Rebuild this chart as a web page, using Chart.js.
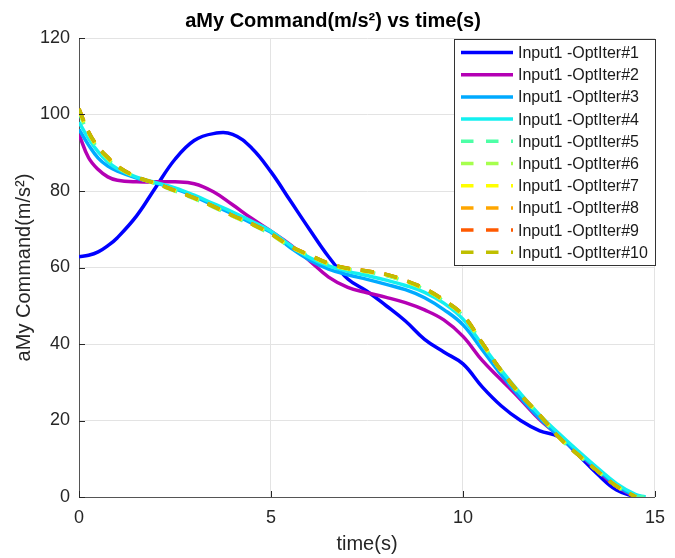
<!DOCTYPE html>
<html>
<head>
<meta charset="utf-8">
<script src="https://cdn.jsdelivr.net/npm/chart.js@4.4.1/dist/chart.umd.min.js"></script>
<style>
   html, body { margin: 0; padding: 0; background: #fff; }
</style>
</head>
<body>
<canvas id="grafico1" width="675" height="558"></canvas>
<script>
// time axis shared by every run (s)
const time = [0, 0.25, 0.5, 0.75, 1, 1.5, 2, 2.5, 3, 3.5, 4, 4.5, 5, 5.5, 6, 6.5, 7, 7.5, 8, 8.5, 9, 9.5, 10, 10.5, 11, 11.5, 12, 12.5, 13, 13.5, 14, 14.5, 14.75];

// aMy command for each optimisation iteration (m/s^2)
const iter1 = [62.8, 63.2, 64.1, 65.7, 67.8, 73.5, 81.0, 88.3, 93.2, 95.0, 94.8, 91.2, 85.0, 77.5, 70.0, 62.8, 57.0, 53.8, 50.0, 46.0, 41.2, 37.9, 34.8, 28.8, 23.8, 20.0, 17.3, 15.7, 11.0, 6.0, 1.8, 0, null];
const iter2 = [94.8, 88.7, 85.6, 83.7, 82.8, 82.4, 82.4, 82.4, 81.9, 79.8, 76.4, 72.8, 69.5, 66.0, 61.8, 57.5, 54.8, 53.4, 52.2, 50.8, 48.9, 46.3, 42.0, 35.7, 30.6, 25.5, 20.2, 16.0, 11.5, 6.9, 2.7, 0, null];
const iter3 = [96.1, 92.0, 88.6, 86.5, 85.2, 83.4, 82.1, 80.6, 78.6, 76.3, 74.0, 71.6, 69.2, 65.2, 62.0, 59.6, 58.1, 56.9, 55.6, 54.2, 52.1, 49.0, 45.0, 38.5, 31.9, 25.9, 20.5, 15.9, 11.5, 7.2, 3.0, 0.3, 0];
const iter4 = [98.0, 93.7, 90.2, 87.6, 85.8, 83.6, 82.2, 80.8, 78.9, 76.7, 74.5, 72.1, 69.5, 65.8, 62.6, 60.4, 59.0, 57.9, 56.7, 55.3, 53.5, 50.7, 46.5, 39.8, 33.1, 27.0, 21.4, 16.6, 12.0, 7.6, 3.5, 0.6, 0];
const iter5 = [100.6, 94.8, 91.0, 88.3, 86.1, 83.6, 81.9, 80.0, 78.0, 75.8, 73.4, 71.2, 68.6, 65.4, 63.0, 60.8, 59.5, 58.8, 57.9, 56.3, 54.2, 51.2, 47.3, 40.1, 32.8, 26.7, 21.3, 15.6, 11.0, 6.8, 2.9, 0.1, 0];
const iter6 = [101.0, 95.1, 91.2, 88.5, 86.3, 83.6, 81.9, 80.0, 78.1, 75.9, 73.5, 71.3, 68.7, 65.5, 63.1, 60.9, 59.6, 58.9, 58.0, 56.4, 54.3, 51.3, 47.4, 40.2, 32.9, 26.7, 21.3, 15.6, 11.0, 6.8, 2.8, 0, null];
const iter7 = [101.2, 95.3, 91.4, 88.7, 86.4, 83.7, 82.0, 80.1, 78.1, 75.9, 73.5, 71.3, 68.7, 65.5, 63.2, 61.0, 59.7, 59.0, 58.1, 56.5, 54.4, 51.4, 47.5, 40.2, 32.9, 26.8, 21.4, 15.6, 11.0, 6.8, 2.8, 0, null];
const iter8 = [101.4, 95.4, 91.5, 88.8, 86.5, 83.7, 82.0, 80.1, 78.2, 76.0, 73.6, 71.4, 68.8, 65.6, 63.3, 61.1, 59.8, 59.1, 58.2, 56.6, 54.5, 51.5, 47.6, 40.3, 33.0, 26.8, 21.4, 15.6, 11.0, 6.8, 2.8, 0, null];
const iter9 = [101.5, 95.5, 91.5, 88.8, 86.5, 83.7, 82.0, 80.1, 78.2, 76.0, 73.6, 71.4, 68.8, 65.6, 63.3, 61.1, 59.8, 59.1, 58.2, 56.6, 54.5, 51.5, 47.6, 40.3, 33.0, 26.8, 21.4, 15.6, 11.0, 6.8, 2.8, 0, null];
const iter10 = [101.5, 95.5, 91.5, 88.8, 86.5, 83.7, 82.0, 80.1, 78.2, 76.0, 73.6, 71.4, 68.8, 65.6, 63.3, 61.1, 59.8, 59.1, 58.2, 56.6, 54.5, 51.5, 47.6, 40.3, 33.0, 26.8, 21.4, 15.6, 11.0, 6.8, 2.8, 0, null];

const labels = ['Input1 -OptIter#1', 'Input1 -OptIter#2', 'Input1 -OptIter#3', 'Input1 -OptIter#4', 'Input1 -OptIter#5',
   'Input1 -OptIter#6', 'Input1 -OptIter#7', 'Input1 -OptIter#8', 'Input1 -OptIter#9', 'Input1 -OptIter#10'];
const series = [iter1, iter2, iter3, iter4, iter5, iter6, iter7, iter8, iter9, iter10];
const colors = ['#0000FF', '#B400B4', '#00AAFF', '#14F0F0', '#4DFFA6', '#A6FF4D', '#FFFF00', '#FFA600', '#FF5A00', '#BFBF00'];
const xTicks = [0, 5, 10, 15];
const yTicks = [0, 20, 40, 60, 80, 100, 120];

const FONT = '"Liberation Sans", Arial, sans-serif';

const datasets = series.map(function (vals, i) {
   return {
      label: labels[i],
      data: time.map((t, k) => ({ x: t, y: vals[k] })),
      borderColor: colors[i],
      borderWidth: 3.5,
      borderDash: i >= 4 ? [13, 11] : [],
      pointRadius: 0,
      fill: false,
      tension: 0.4,
      order: 10 - i
   };
});

// inward ticks + MATLAB style boxed legend
const extras = {
   id: 'extras',
   afterDatasetsDraw(chart) {
      const ctx = chart.ctx, a = chart.chartArea;
      const xs = chart.scales.x, ys = chart.scales.y;
      ctx.save();
      ctx.strokeStyle = '#262626';
      ctx.lineWidth = 1;
      ctx.beginPath();
      xTicks.forEach(v => {
         const px = Math.round(xs.getPixelForValue(v)) + 0.5;
         ctx.moveTo(px, a.bottom); ctx.lineTo(px, a.bottom - 6);
      });
      yTicks.forEach(v => {
         const py = Math.round(ys.getPixelForValue(v)) + 0.5;
         ctx.moveTo(a.left, py); ctx.lineTo(a.left + 6, py);
      });
      ctx.stroke();

      const lx = 454, ly = 39, lw = 201, lh = 226;
      ctx.fillStyle = '#fff';
      ctx.fillRect(lx, ly, lw, lh);
      ctx.strokeStyle = '#333';
      ctx.strokeRect(lx + 0.5, ly + 0.5, lw, lh);
      ctx.font = '16px ' + FONT;
      ctx.textBaseline = 'middle';
      chart.data.datasets.forEach((ds, i) => {
         const y = 52.5 + i * 22.2;
         ctx.strokeStyle = ds.borderColor;
         ctx.lineWidth = 3.5;
         ctx.setLineDash(ds.borderDash.length ? [12.5, 12.5] : []);
         ctx.beginPath(); ctx.moveTo(461, y); ctx.lineTo(513, y); ctx.stroke();
         ctx.setLineDash([]);
         ctx.fillStyle = '#1a1a1a';
         ctx.fillText(ds.label, 518, y + 1);
      });
      ctx.restore();
   }
};

const grafico1 = document.getElementById('grafico1').getContext('2d');
const chart1 = new Chart(grafico1, {
   type: 'line',
   data: { datasets },
   plugins: [extras],
   options: {
      responsive: false,
      animation: false,
      devicePixelRatio: 1,
      layout: { padding: { left: 0, right: 9, top: 0, bottom: 0 } },
      plugins: {
         legend: { display: false },
         tooltip: { enabled: false },
         title: {
            display: true,
            text: 'aMy Command(m/s²) vs time(s)',
            color: '#000',
            font: { family: FONT, size: 20, weight: 'bold' },
            padding: { top: 9.5, bottom: 4.5 }
         }
      },
      scales: {
         x: {
            type: 'linear', min: 0, max: 15,
            afterFit: s => { s.height = 61; },
            afterBuildTicks: s => { s.ticks = xTicks.map(v => ({ value: v })); },
            ticks: { color: '#262626', font: { family: FONT, size: 18 }, padding: 10, maxRotation: 0 },
            grid: { color: '#e3e3e3', drawTicks: false },
            border: { color: '#555', width: 1 },
            title: { display: true, text: 'time(s)', color: '#262626', font: { family: FONT, size: 20 }, padding: { top: 0, bottom: 2 } }
         },
         y: {
            min: 0, max: 120,
            afterFit: s => { s.width = 79; },
            afterBuildTicks: s => { s.ticks = yTicks.map(v => ({ value: v })); },
            ticks: { color: '#262626', font: { family: FONT, size: 18 }, padding: 9 },
            grid: { color: '#e3e3e3', drawTicks: false },
            border: { color: '#555', width: 1 },
            title: { display: true, text: 'aMy Command(m/s²)', color: '#262626', font: { family: FONT, size: 20 }, padding: { top: 12, bottom: 0 } }
         }
      }
   }
});
</script>
</body>
</html>
